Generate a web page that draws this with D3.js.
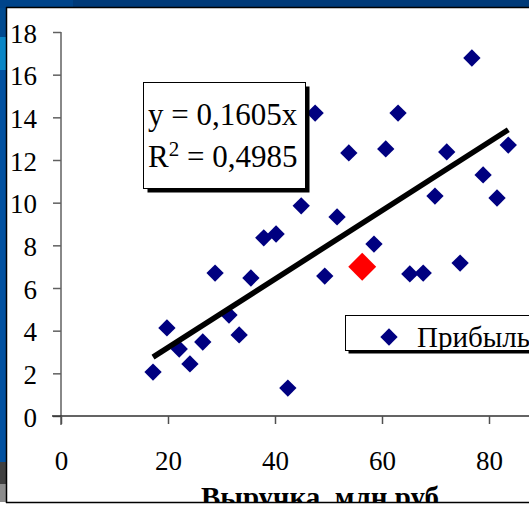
<!DOCTYPE html>
<html>
<head>
<meta charset="utf-8">
<script src="https://cdn.jsdelivr.net/npm/d3@7"></script>
<style>
  html, body { margin: 0; padding: 0; background: #ffffff; }
  svg { display: block; }
  text { font-family: "Liberation Serif", "Times New Roman", serif; }
</style>
</head>
<body>
<svg id="chart" width="529" height="505"></svg>
<script>
// ---- Data ----
const revenue = [17.2, 19.8, 22.1, 24.1, 26.5, 28.8, 31.4, 33.3, 35.5, 37.9,
                 40.2, 42.4, 44.9, 47.5, 49.3, 51.6, 53.8, 58.5, 60.7, 63.0,
                 65.2, 67.7, 69.9, 72.1, 74.6, 76.8, 78.9, 81.5, 83.6];
const profit  = [2.06, 4.13, 3.14, 2.44, 3.47, 6.70, 4.73, 3.80, 6.47, 8.35,
                 8.53, 1.31, 9.85, 14.2, 6.56, 9.33, 12.33, 8.06, 12.52, 14.2,
                 6.66, 6.70, 10.31, 12.38, 7.17, 16.78, 11.30, 10.22, 12.70];
const highlightRevenue = [56.3];
const highlightProfit  = [7.0];
const trendSlope = 0.1605;
const xTicks = [0, 20, 40, 60, 80];
const yTicks = [0, 2, 4, 6, 8, 10, 12, 14, 16, 18];
const equationLine1 = "y = 0,1605x";
const equationR = "R";
const equationSup = "2";
const equationRest = " = 0,4985";
const legendLabel = "Прибыль";
const xTitle = "Выручка, млн руб";

const svg = d3.select("#chart");

// ---- Slide background (blue frame around the chart) ----
svg.append("rect").attr("x", 0).attr("y", 0).attr("width", 529).attr("height", 8).attr("fill", "#003a78");
svg.append("rect").attr("x", 0).attr("y", 0).attr("width", 73).attr("height", 8).attr("fill", "#00448a");
const strip = [
  {y0: 8, y1: 37, c: "#004a90"},
  {y0: 37, y1: 70, c: "#0a86c6"},
  {y0: 70, y1: 462, c: "#0050a0"},
  {y0: 462, y1: 484, c: "#404040"},
  {y0: 484, y1: 502, c: "#8c8c8c"}
];
svg.selectAll("rect.strip").data(strip).enter().append("rect")
  .attr("class", "strip")
  .attr("x", 0).attr("y", d => d.y0).attr("width", 7).attr("height", d => d.y1 - d.y0)
  .attr("fill", d => d.c);

// chart area
svg.append("rect").attr("x", 7).attr("y", 8).attr("width", 522).attr("height", 494).attr("fill", "#ffffff");

svg.append("defs").append("clipPath").attr("id", "area")
  .append("rect").attr("x", 7).attr("y", 8).attr("width", 522).attr("height", 494);

const g = svg.append("g").attr("clip-path", "url(#area)");

// ---- Scales ----
const x = d3.scaleLinear().domain([0, 90]).range([61, 542.5]);
const y = d3.scaleLinear().domain([0, 18]).range([416, 32]);

// ---- Axes ----
const yAxis = g.append("g").attr("transform", "translate(61,0)")
  .call(d3.axisLeft(y).tickValues(yTicks).tickSize(8).tickPadding(16).tickSizeOuter(0));
yAxis.select(".domain").attr("stroke", "#606060").attr("stroke-width", 1.5)
  .attr("d", `M0,${y(18)}V${y(0) + 9}`);
yAxis.selectAll(".tick line").attr("stroke", "#606060").attr("stroke-width", 1.5);
yAxis.selectAll(".tick text")
  .attr("font-family", "Liberation Serif").attr("font-size", 27).attr("fill", "#000")
  .attr("dy", "0.38em");

const xAxis = g.append("g").attr("transform", "translate(0,416)")
  .call(d3.axisBottom(x).tickValues(xTicks).tickSize(8).tickPadding(27).tickSizeOuter(0));
xAxis.select(".domain").attr("stroke", "#303030").attr("stroke-width", 1.5)
  .attr("d", `M52,0H529`);
xAxis.selectAll(".tick line").attr("stroke", "#505050").attr("stroke-width", 1.5);
xAxis.selectAll(".tick text")
  .attr("font-family", "Liberation Serif").attr("font-size", 27).attr("fill", "#000");

// ---- Axis title (cut off at the bottom) ----
g.append("text")
  .attr("x", 320).attr("y", 507)
  .attr("text-anchor", "middle")
  .attr("font-family", "Liberation Serif").attr("font-weight", "bold").attr("font-size", 29)
  .attr("fill", "#000")
  .text(xTitle);

// ---- Points ----
const pts = revenue.map((r, i) => ({x: r, y: profit[i]}));
const diamond = d3.symbol().type(d3.symbolSquare).size(150);
g.selectAll("path.pt").data(pts).enter().append("path")
  .attr("class", "pt")
  .attr("d", diamond)
  .attr("transform", d => `translate(${x(d.x)},${y(d.y)}) rotate(45)`)
  .attr("fill", "#000080");

// ---- Trend line ----
const xMin = d3.min(revenue), xMax = d3.max(revenue);
g.append("line")
  .attr("x1", x(xMin)).attr("y1", y(trendSlope * xMin))
  .attr("x2", x(xMax)).attr("y2", y(trendSlope * xMax))
  .attr("stroke", "#000").attr("stroke-width", 5.5);

// ---- Highlighted point ----
const hp = highlightRevenue.map((r, i) => ({x: r, y: highlightProfit[i]}));
g.selectAll("path.hp").data(hp).enter().append("path")
  .attr("class", "hp")
  .attr("d", d3.symbol().type(d3.symbolSquare).size(390))
  .attr("transform", d => `translate(${x(d.x)},${y(d.y)}) rotate(45)`)
  .attr("fill", "#ff0000");

// ---- Equation box ----
const eq = g.append("g");
eq.append("rect").attr("x", 147.5).attr("y", 86.5).attr("width", 162).attr("height", 106).attr("fill", "#000");
eq.append("rect").attr("x", 143.5).attr("y", 82.5).attr("width", 162).attr("height", 106)
  .attr("fill", "#fff").attr("stroke", "#000").attr("stroke-width", 1);
eq.append("text").attr("x", 148).attr("y", 125)
  .attr("font-family", "Liberation Serif").attr("font-size", 31).attr("fill", "#000")
  .text(equationLine1);
const t2 = eq.append("text").attr("x", 148).attr("y", 167)
  .attr("font-family", "Liberation Serif").attr("font-size", 31).attr("fill", "#000");
t2.append("tspan").text(equationR);
t2.append("tspan").attr("dy", -11).attr("font-size", 21).text(equationSup);
t2.append("tspan").attr("dy", 11).text(equationRest);

// ---- Legend ----
const lg = g.append("g");
lg.append("rect").attr("x", 348.5).attr("y", 318.5).attr("width", 200).attr("height", 35).attr("fill", "#000");
lg.append("rect").attr("x", 345.5).attr("y", 315.5).attr("width", 200).attr("height", 35)
  .attr("fill", "#fff").attr("stroke", "#000").attr("stroke-width", 1);
lg.append("path").attr("d", diamond).attr("transform", "translate(389,337) rotate(45)").attr("fill", "#000080");
lg.append("text").attr("x", 417).attr("y", 347)
  .attr("font-family", "Liberation Serif").attr("font-size", 29).attr("fill", "#000")
  .text(legendLabel);

// ---- Frame lines ----
svg.append("line").attr("x1", 6.5).attr("y1", 7).attr("x2", 6.5).attr("y2", 503).attr("stroke", "#000").attr("stroke-width", 1.5);
svg.append("line").attr("x1", 6).attr("y1", 7.5).attr("x2", 529).attr("y2", 7.5).attr("stroke", "#000").attr("stroke-width", 1.5);
svg.append("line").attr("x1", 6).attr("y1", 502.5).attr("x2", 529).attr("y2", 502.5).attr("stroke", "#000").attr("stroke-width", 1.5);
</script>
</body>
</html>
